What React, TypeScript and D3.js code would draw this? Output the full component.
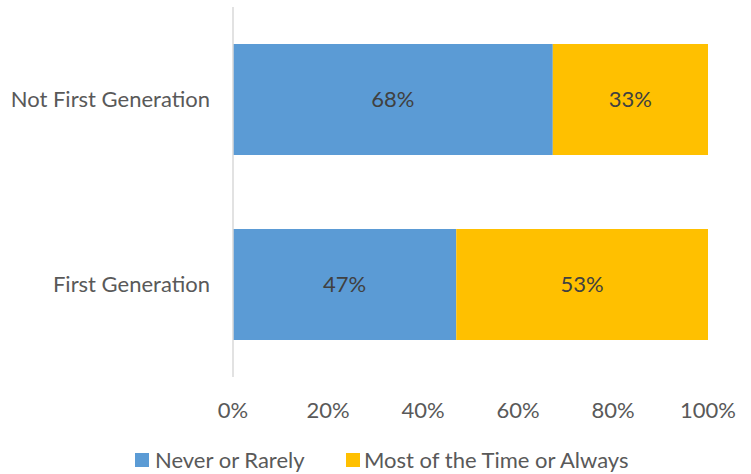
import React from "react";
import * as d3 from "d3";

const categories = ["Not First Generation", "First Generation"];
const seriesNames = ["Never or Rarely", "Most of the Time or Always"];
const neverOrRarely = [68, 47];
const mostOrAlways = [33, 53];
const xTicks = [0, 0.2, 0.4, 0.6, 0.8, 1];
const colors = ["#5B9BD5", "#FFC000"];

const W = 751;
const H = 474;
const FONT = "Lato, 'Open Sans', sans-serif";
const FS = 22;

export default function App() {
  const x = d3.scaleLinear().domain([0, 1]).range([233, 708]);
  const y = d3
    .scaleBand<string>()
    .domain(categories)
    .range([7, 377])
    .paddingInner(0.4)
    .paddingOuter(0.2);

  const rows = categories.map((c, i) => {
    const vals = [neverOrRarely[i], mostOrAlways[i]];
    const total = d3.sum(vals);
    let acc = 0;
    const segs = vals.map((v, k) => {
      const x0 = acc / total;
      acc += v;
      return { x0, x1: acc / total, v, k };
    });
    return { c, segs };
  });

  const legend = [
    { name: seriesNames[0], sx: 135, tx: 155 },
    { name: seriesNames[1], sx: 346, tx: 364 },
  ];

  return (
    <div style={{ position: "absolute", left: 0, top: 0 }}>
      <svg width={W} height={H} style={{ display: "block", background: "#fff" }}>
        {rows.map((r) => (
          <g key={r.c}>
            {r.segs.map((s) => (
              <g key={s.k}>
                <rect
                  x={x(s.x0)}
                  y={y(r.c)}
                  width={x(s.x1) - x(s.x0)}
                  height={y.bandwidth()}
                  fill={colors[s.k]}
                />
                <text
                  x={(x(s.x0) + x(s.x1)) / 2}
                  y={(y(r.c) ?? 0) + y.bandwidth() / 2}
                  dy="0.35em"
                  textAnchor="middle"
                  fontFamily={FONT}
                  fontSize={FS}
                  fill="#404040"
                >
                  {s.v}%
                </text>
              </g>
            ))}
            <text
              x={210}
              y={(y(r.c) ?? 0) + y.bandwidth() / 2}
              dy="0.35em"
              textAnchor="end"
              fontFamily={FONT}
              fontSize={FS}
              fill="#595959"
            >
              {r.c}
            </text>
          </g>
        ))}
        <line x1={x(0)} x2={x(0)} y1={7} y2={377} stroke="#D9D9D9" strokeWidth={1.5} />
        {xTicks.map((t) => (
          <text
            key={t}
            x={x(t)}
            y={410}
            dy="0.35em"
            textAnchor="middle"
            fontFamily={FONT}
            fontSize={FS}
            fill="#595959"
          >
            {d3.format(".0%")(t)}
          </text>
        ))}
        {legend.map((l, i) => (
          <g key={l.name}>
            <rect x={l.sx} y={453} width={14} height={14} fill={colors[i]} />
            <text x={l.tx} y={460} dy="0.35em" fontFamily={FONT} fontSize={FS} fill="#595959">
              {l.name}
            </text>
          </g>
        ))}
      </svg>
    </div>
  );
}
